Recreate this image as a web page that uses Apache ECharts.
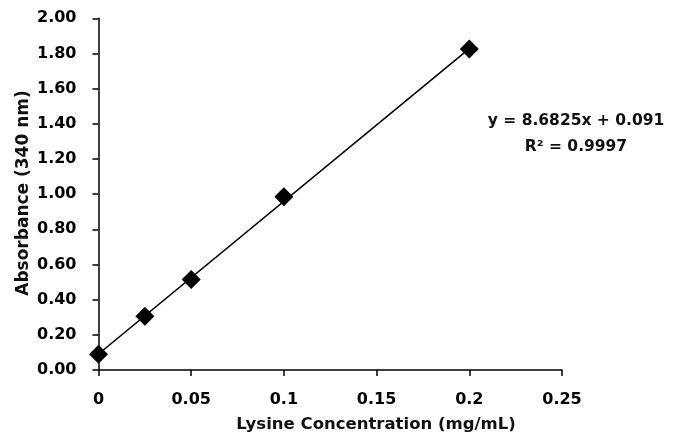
<!DOCTYPE html>
<html><head><meta charset="utf-8">
<script src="https://cdn.jsdelivr.net/npm/echarts@6/dist/echarts.min.js"></script>
<style>html,body{margin:0;padding:0;background:#fff}#c{width:675px;height:440px}</style>
</head><body><div id="c"></div>
<script>
const concentrations = [0, 0.025, 0.05, 0.1, 0.2];
const absorbance = [0.09, 0.305, 0.515, 0.985, 1.825];
const slope = 8.6825, intercept = 0.091;
const trendX = [0, 0.2];
const eqLabel = 'y = 8.6825x + 0.091';
const r2Label = 'R² = 0.9997';
const xTitle = 'Lysine Concentration (mg/mL)';
const yTitle = 'Absorbance (340 nm)';

const FONT = '"DejaVu Sans"';
const chart = echarts.init(document.getElementById('c'));
chart.setOption({
  animation: false,
  grid: {left: 98.5, right: 113, top: 18.3, bottom: 70},
  xAxis: {
    type: 'value', min: 0, max: 0.25, interval: 0.05,
    axisLine: {show: true, onZero: false, lineStyle: {color: '#000', width: 1.5}},
    axisTick: {show: true, length: 6, lineStyle: {color: '#000', width: 1.5}},
    axisLabel: {margin: 22, fontFamily: FONT, fontWeight: 'bold', fontSize: 16, color: '#000'},
    splitLine: {show: false}
  },
  yAxis: {
    type: 'value', min: 0, max: 2, interval: 0.2,
    axisLine: {show: true, lineStyle: {color: '#000', width: 1.5}},
    axisTick: {show: true, length: 6, lineStyle: {color: '#000', width: 1.5}},
    axisLabel: {margin: 22, fontFamily: FONT, fontWeight: 'bold', fontSize: 16, color: '#000',
      formatter: v => v.toFixed(2)},
    splitLine: {show: false}
  },
  series: [
    {type: 'line', data: trendX.map(x => [x, slope * x + intercept]), symbol: 'none',
     lineStyle: {color: '#000', width: 1.6}, z: 2},
    {type: 'scatter', data: concentrations.map((x, i) => [x, absorbance[i]]),
     symbol: 'diamond', symbolSize: [19, 19], itemStyle: {color: '#000', opacity: 1}, z: 3}
  ],
  graphic: [
    {type: 'text', x: 376, y: 425, style: {text: xTitle, font: 'bold 16.5px "DejaVu Sans"', fill: '#111', align: 'center', verticalAlign: 'middle'}},
    {type: 'text', x: 24, y: 193, rotation: Math.PI / 2, style: {text: yTitle, font: 'bold 17px "DejaVu Sans"', fill: '#111', align: 'center', verticalAlign: 'middle'}},
    {type: 'text', x: 576, y: 121, style: {text: eqLabel, font: 'bold 15.5px "DejaVu Sans"', fill: '#111', align: 'center', verticalAlign: 'middle'}},
    {type: 'text', x: 576, y: 147, style: {text: r2Label, font: 'bold 15.5px "DejaVu Sans"', fill: '#111', align: 'center', verticalAlign: 'middle'}}
  ]
});
</script></body></html>
